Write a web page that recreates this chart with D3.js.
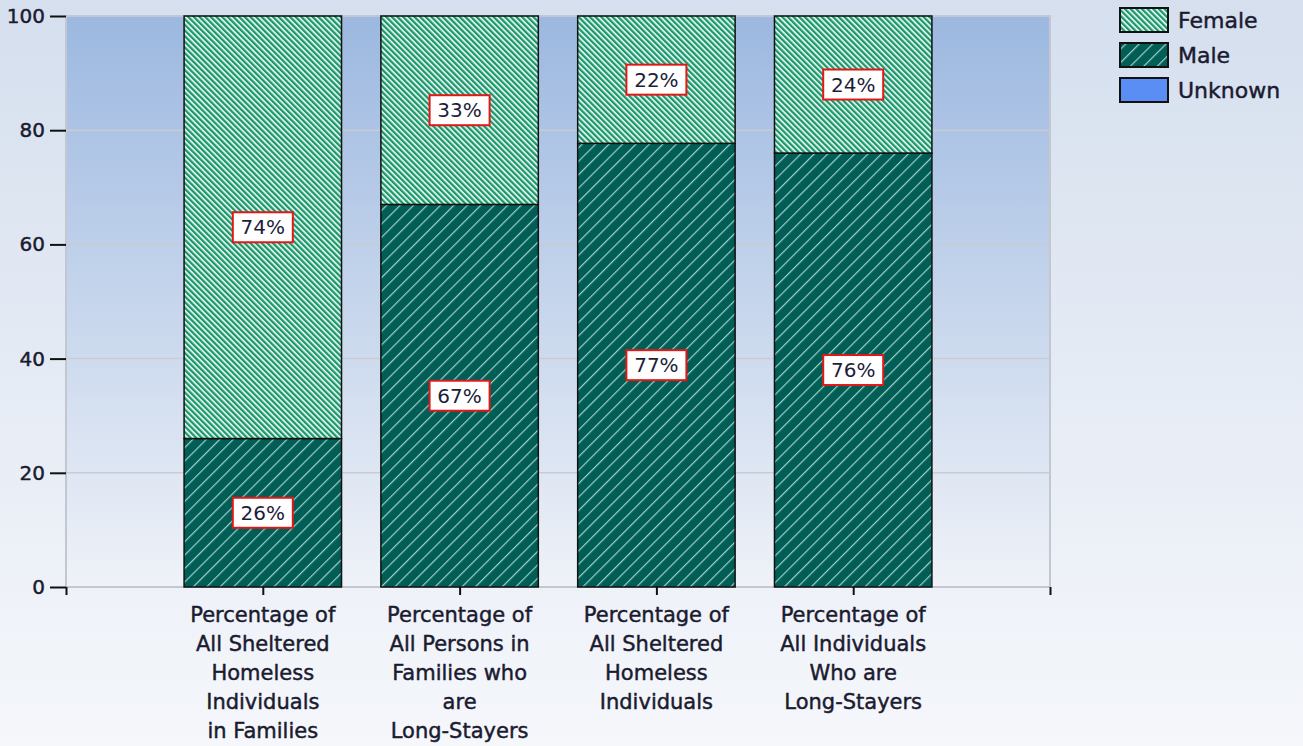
<!DOCTYPE html>
<html>
<head>
<meta charset="utf-8">
<script src="https://cdn.jsdelivr.net/npm/d3@7"></script>
<style>
  html, body { margin: 0; padding: 0; }
  body { width: 1303px; height: 746px; overflow: hidden; }
  svg { display: block; }
  text { stroke-linejoin: round; }
</style>
</head>
<body>
<svg id="chart" width="1303" height="746"></svg>
<script>
// ---- data ----
const categories = [
  "Percentage of\nAll Sheltered\nHomeless\nIndividuals\nin Families",
  "Percentage of\nAll Persons in\nFamilies who\nare\nLong-Stayers",
  "Percentage of\nAll Sheltered\nHomeless\nIndividuals",
  "Percentage of\nAll Individuals\nWho are\nLong-Stayers"
];
const seriesNames = ["Female", "Male", "Unknown"];
const maleValues = [26, 67, 77.7, 76];
const femaleValues = [74, 33, 22.3, 24];
const unknownValues = [0, 0, 0, 0];
const yTicks = [0, 20, 40, 60, 80, 100];

// ---- layout ----
const W = 1303, H = 746;
const M = { left: 66, right: 1050, top: 16, bottom: 587 };
const svg = d3.select("#chart");
const defs = svg.append("defs");
const TXT = "#1b1b30";

function heavy(sel) {
  return sel.attr("stroke", TXT).attr("stroke-width", 0.45).attr("fill", TXT);
}

// page background
const pg = defs.append("linearGradient").attr("id", "pageBg").attr("x1", 0).attr("y1", 0).attr("x2", 0).attr("y2", 1);
pg.append("stop").attr("offset", "0%").attr("stop-color", "#d5dfee");
pg.append("stop").attr("offset", "100%").attr("stop-color", "#f5f7fb");
// plot background
const pb = defs.append("linearGradient").attr("id", "plotBg").attr("x1", 0).attr("y1", 0).attr("x2", 0).attr("y2", 1);
pb.append("stop").attr("offset", "0%").attr("stop-color", "#9cb8e0");
pb.append("stop").attr("offset", "100%").attr("stop-color", "#eff2f8");

// patterns
const pf = defs.append("pattern").attr("id", "patFemale").attr("patternUnits", "userSpaceOnUse")
  .attr("width", 4).attr("height", 4).attr("patternTransform", "rotate(-45)");
pf.append("rect").attr("width", 4).attr("height", 4).attr("fill", "#ffffff");
pf.append("rect").attr("width", 2.4).attr("height", 4).attr("fill", "#18996b");

const pm = defs.append("pattern").attr("id", "patMale").attr("patternUnits", "userSpaceOnUse")
  .attr("width", 9.5).attr("height", 9.5).attr("patternTransform", "rotate(45)");
pm.append("rect").attr("width", 9.5).attr("height", 9.5).attr("fill", "#005e56");
pm.append("rect").attr("width", 1.2).attr("height", 9.5).attr("fill", "#9fd0c6");

const fills = { Female: "url(#patFemale)", Male: "url(#patMale)", Unknown: "#5b8ef5" };

svg.append("rect").attr("width", W).attr("height", H).attr("fill", "url(#pageBg)");

// scales
const x = d3.scaleLinear().domain([0, categories.length + 1]).range([M.left, M.right]);
const y = d3.scaleLinear().domain([0, 100]).range([M.bottom, M.top]);
const barW = 0.8 * (x(1) - x(0));

// plot area
svg.append("rect").attr("x", M.left).attr("y", M.top)
  .attr("width", M.right - M.left).attr("height", M.bottom - M.top)
  .attr("fill", "url(#plotBg)");

// grid
svg.append("g").selectAll("line").data(yTicks.filter(t => t > 0 && t < 100)).join("line")
  .attr("x1", M.left).attr("x2", M.right)
  .attr("y1", d => y(d)).attr("y2", d => y(d))
  .attr("stroke", "#c9ccd2").attr("stroke-width", 1.5);

// plot border
svg.append("rect").attr("x", M.left).attr("y", M.top)
  .attr("width", M.right - M.left).attr("height", M.bottom - M.top)
  .attr("fill", "none").attr("stroke", "#c3c7cf").attr("stroke-width", 2);

// stacked data
const rows = categories.map((c, i) => ({ i, Male: maleValues[i], Female: femaleValues[i], Unknown: unknownValues[i] }));
const stack = d3.stack().keys(["Male", "Female", "Unknown"]);
const layers = stack(rows);

const barG = svg.append("g");
layers.forEach(layer => {
  barG.append("g").selectAll("rect").data(layer.filter(d => d[1] - d[0] > 0)).join("rect")
    .attr("x", d => x(d.data.i + 1) - barW / 2)
    .attr("width", barW)
    .attr("y", d => y(d[1]))
    .attr("height", d => y(d[0]) - y(d[1]))
    .attr("fill", fills[layer.key])
    .attr("stroke", "#111")
    .attr("stroke-width", 1.5);
});

// value labels
const labG = svg.append("g");
layers.forEach(layer => {
  layer.filter(d => d[1] - d[0] > 0).forEach(d => {
    const cx = x(d.data.i + 1), cy = y((d[0] + d[1]) / 2);
    const txt = Math.floor(d[1] - d[0]) + "%";
    labG.append("rect").attr("x", cx - 30).attr("y", cy - 15).attr("width", 60).attr("height", 30)
      .attr("fill", "#ffffff").attr("stroke", "#e01818").attr("stroke-width", 2);
    labG.append("text").attr("x", cx).attr("y", cy).attr("dy", "0.36em")
      .attr("text-anchor", "middle").attr("font-family", "DejaVu Sans").attr("font-size", 20)
      .attr("fill", "#1d1d3a").text(txt);
  });
});

// y axis
const yAxis = svg.append("g").attr("transform", `translate(${M.left},0)`)
  .call(d3.axisLeft(y).tickValues(yTicks).tickSize(16).tickPadding(5));
yAxis.select(".domain").remove();
yAxis.selectAll(".tick line").attr("stroke", "#111").attr("stroke-width", 2);
heavy(yAxis.selectAll(".tick text").attr("font-family", "DejaVu Sans").attr("font-size", 20));

// x axis ticks
const xAxis = svg.append("g").attr("transform", `translate(0,${M.bottom})`)
  .call(d3.axisBottom(x).tickValues(d3.range(0, categories.length + 2)).tickSize(8).tickFormat(""));
xAxis.select(".domain").remove();
xAxis.selectAll(".tick line").attr("stroke", "#111").attr("stroke-width", 2);

// category labels
categories.forEach((c, i) => {
  const t = heavy(svg.append("text").attr("text-anchor", "middle")
    .attr("font-family", "DejaVu Sans").attr("font-size", 21));
  c.split("\n").forEach((line, k) => {
    t.append("tspan").attr("x", x(i + 1)).attr("y", 614 + k * 29).attr("dy", "0.36em").text(line);
  });
});

// legend
const legend = svg.append("g");
seriesNames.forEach((s, k) => {
  const yy = 8 + k * 35;
  legend.append("rect").attr("x", 1120).attr("y", yy).attr("width", 48).attr("height", 24)
    .attr("fill", fills[s]).attr("stroke", "#111").attr("stroke-width", 2);
  heavy(legend.append("text").attr("x", 1178).attr("y", yy + 12).attr("dy", "0.36em")
    .attr("font-family", "DejaVu Sans").attr("font-size", 22)).text(s);
});
</script>
</body>
</html>
